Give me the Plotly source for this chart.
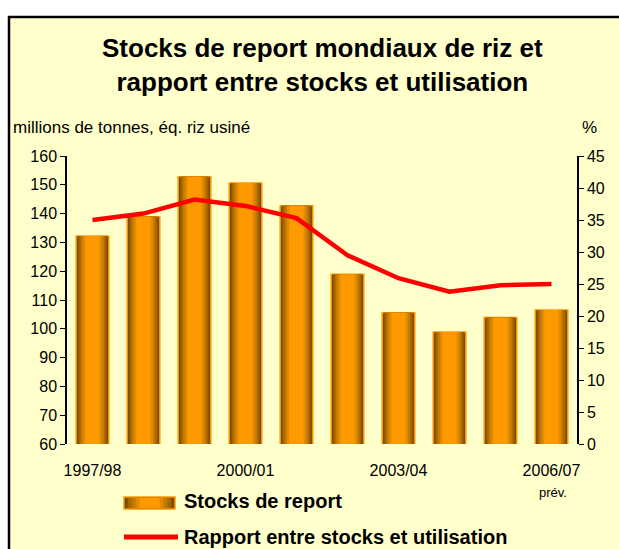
import plotly.graph_objects as go

categories = ["1997/98", "1998/99", "1999/00", "2000/01", "2001/02",
              "2002/03", "2003/04", "2004/05", "2005/06", "2006/07"]
stocks = [132.2, 138.9, 152.8, 150.6, 142.7, 118.9, 105.6, 98.9, 103.9, 106.5]
ratio = [35.0, 36.0, 38.2, 37.2, 35.3, 29.5, 25.9, 23.8, 24.8, 25.0]
tick_vals = ["1997/98", "2000/01", "2003/04", "2006/07"]
tick_text = ["1997/98", "2000/01", "2003/04", "2006/07"]

W, H = 619, 549
L, R, T, B = 67, 42, 156, 105
PX0, PY1 = 67, 444          # plot area left / bottom in page pixels
pw, ph = W - L - R, H - T - B
def px(x): return (x - PX0) / pw
def py(y): return (PY1 - y) / ph

FONT = "Liberation Sans, Arial, sans-serif"

fig = go.Figure()

layers = [(0.64, "#7A4A00"), (0.58, "#8E5800"), (0.52, "#A86800"),
          (0.46, "#C47A00"), (0.38, "#E08A00"), (0.28, "#FF9900")]
for i, (w, c) in enumerate(layers):
    fig.add_trace(go.Bar(
        x=categories, y=stocks, width=w,
        marker=dict(color=c, line=dict(color="#FF9900", width=1.5 if i == 0 else 0)),
        showlegend=False, hoverinfo="skip" if i else None, yaxis="y",
    ))

fig.add_trace(go.Scatter(
    x=categories, y=ratio, mode="lines", yaxis="y2",
    line=dict(color="#FF0000", width=4.5), showlegend=False,
))

shapes = [
    dict(type="rect", xref="paper", yref="paper", x0=px(9), x1=px(630), y0=py(560), y1=py(17),
         fillcolor="#FFFFCC", line=dict(width=0), layer="below"),
    dict(type="line", xref="paper", yref="paper", x0=px(9), x1=px(9), y0=py(560), y1=py(16),
         line=dict(color="black", width=2.5), layer="below"),
    dict(type="line", xref="paper", yref="paper", x0=px(8), x1=px(630), y0=py(17), y1=py(17),
         line=dict(color="black", width=2.5), layer="below"),
]

sx0, sx1, sy0, sy1 = 124, 175, 497, 509
shapes.append(dict(type="rect", xref="paper", yref="paper", x0=px(sx0), x1=px(sx1),
                   y0=py(sy1), y1=py(sy0), fillcolor="#7A4A00",
                   line=dict(color="#FF9900", width=1.5)))
sw = sx1 - sx0
for frac, c in [(0.85, "#A86800"), (0.7, "#C47A00"), (0.55, "#E08A00"), (0.4, "#FF9900")]:
    cx = (sx0 + sx1) / 2
    shapes.append(dict(type="rect", xref="paper", yref="paper",
                       x0=px(cx - sw * frac / 2), x1=px(cx + sw * frac / 2),
                       y0=py(sy1 - 1), y1=py(sy0 + 1), fillcolor=c, line=dict(width=0)))
shapes.append(dict(type="line", xref="paper", yref="paper", x0=px(124), x1=px(178),
                   y0=py(537), y1=py(537), line=dict(color="#FF0000", width=5)))

annotations = [
    dict(text="<b>Stocks de report mondiaux de riz et<br>rapport entre stocks et utilisation</b>",
         xref="paper", yref="paper", x=px(322), y=py(65), xanchor="center", yanchor="middle",
         showarrow=False, font=dict(family=FONT, size=26, color="black")),
    dict(text="millions de tonnes, \u00e9q. riz usin\u00e9", xref="paper", yref="paper",
         x=px(11), y=py(128), xanchor="left", yanchor="middle", showarrow=False,
         font=dict(family=FONT, size=17, color="black")),
    dict(text="%", xref="paper", yref="paper", x=px(589), y=py(128), xanchor="center",
         yanchor="middle", showarrow=False, font=dict(family=FONT, size=17, color="black")),
    dict(text="pr\u00e9v.", xref="paper", yref="paper", x=px(553), y=py(492), xanchor="center",
         yanchor="middle", showarrow=False, font=dict(family=FONT, size=13, color="black")),
    dict(text="<b>Stocks de report</b>", xref="paper", yref="paper", x=px(182), y=py(501),
         xanchor="left", yanchor="middle", showarrow=False,
         font=dict(family=FONT, size=20, color="black")),
    dict(text="<b>Rapport entre stocks et utilisation</b>", xref="paper", yref="paper",
         x=px(182), y=py(537), xanchor="left", yanchor="middle", showarrow=False,
         font=dict(family=FONT, size=20, color="black")),
]

fig.update_layout(
    width=W, height=H, margin=dict(l=L, r=R, t=T, b=B, pad=0),
    paper_bgcolor="white", plot_bgcolor="white",
    barmode="overlay",
    font=dict(family=FONT, size=16, color="black"),
    shapes=shapes, annotations=annotations,
    xaxis=dict(type="category", tickmode="array", tickvals=tick_vals, ticktext=tick_text,
               showgrid=False, showline=False, ticks="outside", ticklen=12,
               tickcolor="rgba(0,0,0,0)", tickfont=dict(size=16), range=[-0.5, 9.5]),
    yaxis=dict(range=[60, 160], dtick=10, showgrid=False, showline=True, linecolor="black",
               linewidth=1.5, ticks="outside", ticklen=5, tickcolor="black",
               tickfont=dict(size=16), zeroline=False),
    yaxis2=dict(range=[0, 45], dtick=5, overlaying="y", side="right", showgrid=False,
                showline=True, linecolor="black", linewidth=1.5, ticks="outside", ticklen=5,
                tickcolor="black", tickfont=dict(size=16), zeroline=False),
)

fig.write_html(
    "out.html",
    config={"displayModeBar": False},
    post_script="document.body.style.margin='0';document.body.style.overflow='hidden';",
)
